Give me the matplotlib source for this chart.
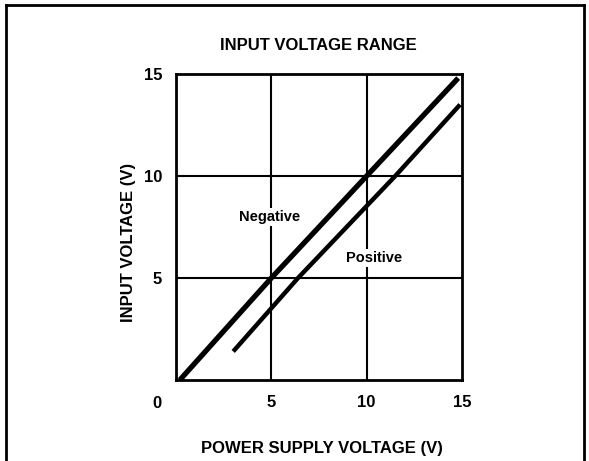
import matplotlib
matplotlib.use("Agg")
import matplotlib.pyplot as plt
from matplotlib.lines import Line2D

plt.rcParams['font.family'] = ['Liberation Sans', 'DejaVu Sans']
plt.rcParams['font.weight'] = 'bold'

# curves
neg_x = [0.2, 5.0, 10.0, 14.8]
neg_y = [0.0, 5.0, 10.0, 14.8]
pos_x = [3.0, 6.4, 11.5, 14.9]
pos_y = [1.4, 5.0, 10.0, 13.5]
ticks = [5, 10, 15]

W, H = 589, 461
fig = plt.figure(figsize=(W / 100, H / 100), dpi=100)
ax = fig.add_axes([176 / W, 1 - 380 / H, 286 / W, 306 / H])

for v in [5, 10]:
    ax.axvline(v, color='black', lw=1.5, zorder=1)
    ax.axhline(v, color='black', lw=1.5, zorder=1)

ax.plot(neg_x, neg_y, color='black', lw=3.8, solid_capstyle='butt', zorder=3)
ax.plot(pos_x, pos_y, color='black', lw=3.2, solid_capstyle='butt', zorder=3)

ax.text(4.9, 8.0, 'Negative', ha='center', va='center', fontsize=10.5,
        bbox=dict(facecolor='white', edgecolor='none', pad=1.5), zorder=2)
ax.text(10.4, 6.0, 'Positive', ha='center', va='center', fontsize=10.5,
        bbox=dict(facecolor='white', edgecolor='none', pad=1.5), zorder=2)

ax.set_xlim(0, 15)
ax.set_ylim(0, 15)
ax.set_xticks(ticks)
ax.set_yticks(ticks)
ax.tick_params(length=0, labelsize=12)
ax.tick_params(axis='y', pad=10)
ax.tick_params(axis='x', pad=11)
for s in ax.spines.values():
    s.set_linewidth(2)

# shared zero at the corner
ax.annotate('0', xy=(0, 0), xytext=(-14, -17), textcoords='offset points',
            ha='center', va='center', fontsize=12)

fig.text(318 / W, 1 - 45 / H, 'INPUT VOLTAGE RANGE', ha='center', va='center',
         fontsize=12, fontweight='bold')
fig.text(322 / W, 1 - 448 / H, 'POWER SUPPLY VOLTAGE (V)', ha='center', va='center',
         fontsize=12, fontweight='bold')
fig.text(128 / W, 1 - 242 / H, 'INPUT VOLTAGE (V)', ha='center', va='center',
         rotation=90, fontsize=12, fontweight='bold')

# page frame
fig.add_artist(Line2D([6 / W, 6 / W], [0, 1 - 5 / H], color='black', lw=2))
fig.add_artist(Line2D([6 / W, 584 / W], [1 - 5 / H, 1 - 5 / H], color='black', lw=2))
fig.add_artist(Line2D([584 / W, 584 / W], [0, 1 - 5 / H], color='black', lw=2))

fig.savefig('out.png', dpi=100)
